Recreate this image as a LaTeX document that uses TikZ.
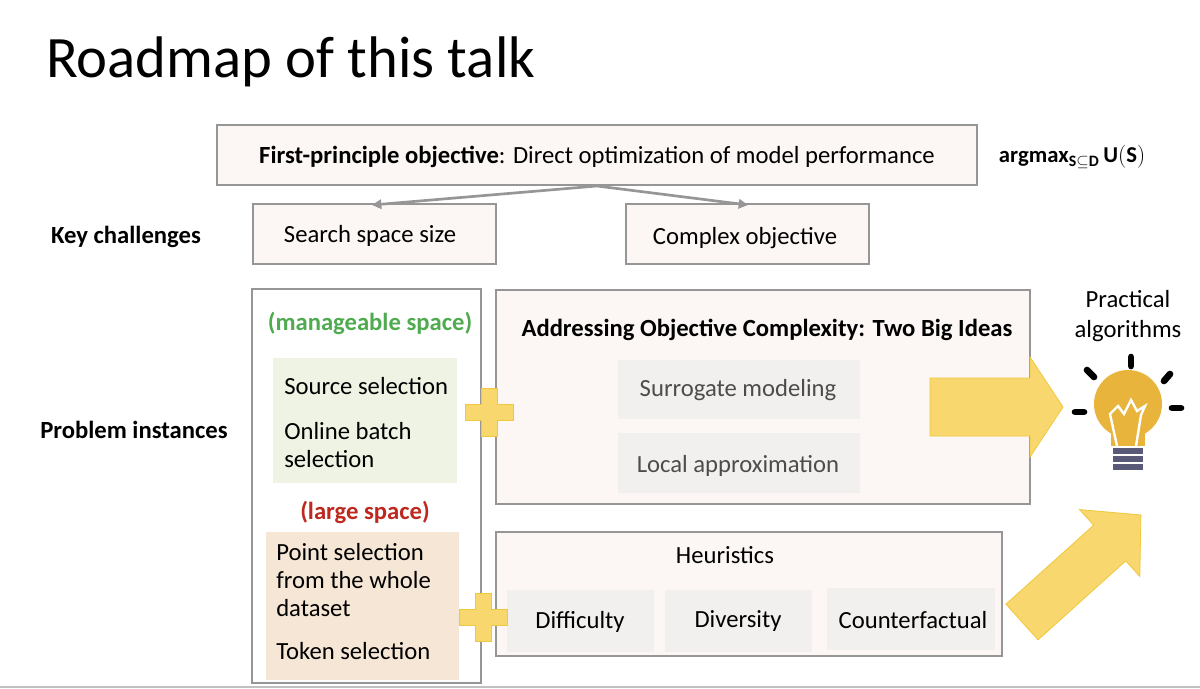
\documentclass[tikz,border=0pt]{standalone}
\usepackage{fontspec}
\setmainfont{Carlito}
\usetikzlibrary{arrows.meta}
\definecolor{boxfill}{RGB}{252,247,244}
\definecolor{bord}{RGB}{150,150,150}
\definecolor{greenfill}{RGB}{238,243,228}
\definecolor{tanfill}{RGB}{246,230,214}
\definecolor{grayfill}{RGB}{242,240,238}
\definecolor{ylw}{RGB}{247,215,110}
\definecolor{ylwd}{RGB}{240,200,60}
\definecolor{bulb}{RGB}{232,180,60}
\definecolor{gtxt}{RGB}{80,170,80}
\definecolor{rtxt}{RGB}{190,40,30}
\tikzset{
  box/.style={draw=bord, line width=0.8pt, fill=boxfill},
  gbox/.style={fill=grayfill},
  txt/.style={font=\fontsize{18.5}{22}\selectfont, inner sep=0pt},
  btxt/.style={font=\fontsize{18.5}{22}\selectfont\bfseries, inner sep=0pt},
  ltxt/.style={txt, anchor=west},
  garrow/.style={draw=bord, line width=2pt, -{Triangle[length=7pt,width=7pt]}},
  fat/.style={fill=ylw, draw=ylwd, line width=0.6pt}
}
\begin{document}
\begin{tikzpicture}[x=0.75pt,y=-0.75pt]
\useasboundingbox (0,0) rectangle (1200,689);
\fill[white] (0,0) rectangle (1200,689);
\draw[bord!60, line width=1pt] (0,687) -- (1200,687);
\node[anchor=west, inner sep=0pt, font=\fontsize{44}{50}\selectfont] (title) at (46,62) {Roadmap of this talk};
% top
\draw[box] (217,125) rectangle (977,185);
\node[txt] (top) at (597,157) {\textbf{First-principle objective}: Direct optimization of model performance};
\coordinate (topb) at (597,186);
\node[inner sep=0pt, font=\fontsize{17}{20}\selectfont] (am) at (1072,157) {$\mathbf{argmax}_{\mathbf{S\subseteq D}}\,\mathbf{U(S)}$};
\draw[box] (253,204) rectangle (496,264);
\node[txt] (ss) at (370,236) {Search space size};
\draw[box] (626,204) rectangle (869,264);
\node[txt] (co) at (745,238) {Complex objective};
\coordinate (a1) at (372,205);
\coordinate (a2) at (748,205);
\draw[garrow] (topb) -- (a1);
\draw[garrow] (topb) -- (a2);
\node[btxt] (kc) at (126,237) {Key challenges};
\node[btxt] (pi) at (134,430) {Problem instances};
% left
\draw[draw=bord, line width=0.8pt, fill=white] (252,289) rectangle (481,683);
\node[btxt, text=gtxt] (ms) at (370,323) {(manageable space)};
\fill[greenfill] (273,358) rectangle (457,483);
\node[ltxt] (s1) at (284,386) {Source selection};
\node[ltxt] (s2) at (284,431) {Online batch};
\node[ltxt] (s3) at (284,459) {selection};
\node[btxt, text=rtxt] (ls) at (365,512) {(large space)};
\fill[tanfill] (266,532) rectangle (459,680);
\node[ltxt] (p1) at (276,552) {Point selection};
\node[ltxt] (p2) at (276,580) {from the whole};
\node[ltxt] (p3) at (276,608) {dataset};
\node[ltxt] (p4) at (276,651) {Token selection};
% right 1
\draw[box] (496,290) rectangle (1030,504);
\node[btxt] (ab) at (767,330) {Addressing Objective Complexity: Two Big Ideas};
\fill[gbox] (618,360) rectangle (860,419);
\node[txt, text=black!70] (sm) at (738,390) {Surrogate modeling};
\fill[gbox] (618,433) rectangle (860,493);
\node[txt, text=black!70] (la) at (738,466) {Local approximation};
% heuristics
\draw[box] (496,532) rectangle (1002,656);
\node[txt] (he) at (725,555) {Heuristics};
\fill[gbox] (507,590) rectangle (654,652);
\node[txt] (d1) at (580,622) {Difficulty};
\fill[gbox] (665,590) rectangle (812,652);
\node[txt] (d2) at (738,621) {Diversity};
\fill[gbox] (827,588) rectangle (995,650);
\node[txt] (d3) at (913,620) {Counterfactual};
% plus signs
\foreach \cx/\cy in {489/412, 483/617}{
  \draw[fat] (\cx-8,\cy-24) -- (\cx+8,\cy-24) -- (\cx+8,\cy-8) -- (\cx+24,\cy-8) -- (\cx+24,\cy+8) -- (\cx+8,\cy+8) -- (\cx+8,\cy+24) -- (\cx-8,\cy+24) -- (\cx-8,\cy+8) -- (\cx-24,\cy+8) -- (\cx-24,\cy-8) -- (\cx-8,\cy-8) -- cycle;
}
% big arrows
\draw[fat] (930,378) -- (1030,378) -- (1030,357) -- (1063,407) -- (1030,457) -- (1030,436) -- (930,436) -- cycle;
\begin{scope}[shift={(1022,622)}, rotate=42]
\draw[fat] (0,-24) -- (118,-24) -- (118,-45) -- (160,0) -- (118,45) -- (118,24) -- (0,24) -- cycle;
\end{scope}
% bulb
\node[txt, align=center] (pa) at (1128,316) {Practical\\algorithms};
\fill[bulb] (1128,404) circle (34);
\fill[bulb] (1111,425) rectangle (1145,446);
\draw[white, line width=1.8pt] (1117,446) -- (1110,414) -- (1118,406) -- (1124,414) -- (1131,400) -- (1137,411) -- (1145,406) -- (1141,415) -- (1136,446);
\foreach \yy in {451,459,467}{\draw[black!60!blue!30!gray, line width=4pt] (1113,\yy) -- (1143,\yy);}
\draw[black, line width=5pt, line cap=round] (1131,357) -- (1131,366);
\draw[black, line width=5pt, line cap=round] (1087,370) -- (1094,377);
\draw[black, line width=5pt, line cap=round] (1170,374) -- (1164,381);
\draw[black, line width=5pt, line cap=round] (1075,412) -- (1084,412);
\draw[black, line width=5pt, line cap=round] (1172,408) -- (1181,408);
\end{tikzpicture}
\end{document}
